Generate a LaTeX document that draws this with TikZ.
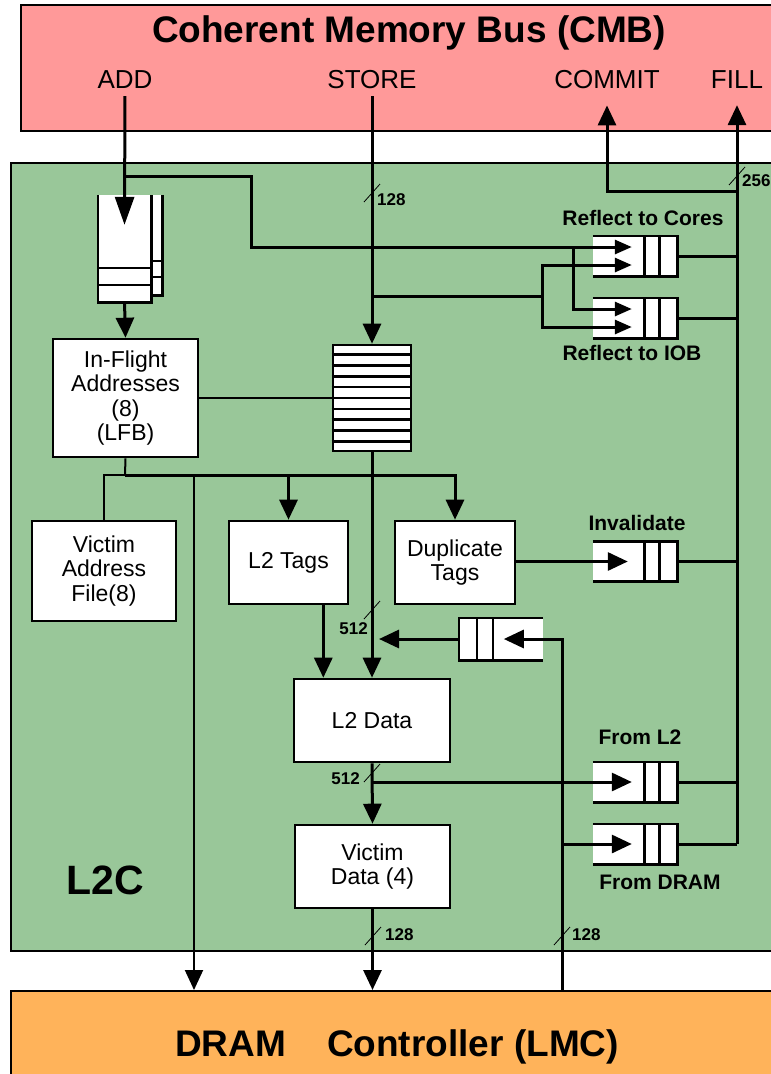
\documentclass[tikz,border=0pt]{standalone}
\usepackage{fontspec}
\setmainfont{Liberation Sans}
\usetikzlibrary{arrows.meta,positioning,calc}
\definecolor{cmbpink}{HTML}{FF9999}
\definecolor{l2cgreen}{HTML}{99C799}
\definecolor{lmcorange}{HTML}{FFB35A}
\newcommand{\blockfont}{\fontsize{23}{24.5}\selectfont}
\newcommand{\sigfont}{\fontsize{26}{28}\selectfont}
\newcommand{\qlabelfont}{\fontsize{21}{23}\selectfont\bfseries}
\newcommand{\widthfont}{\fontsize{17}{18}\selectfont\bfseries}
\newcommand{\titlefont}{\fontsize{37}{40}\selectfont\bfseries}
\tikzset{
  area/.style={draw=black, line width=2.4pt, inner sep=0pt},
  block/.style={draw=black, line width=2.6pt, fill=white, align=center, inner sep=0pt, font=\blockfont},
  queue/.style={fill=white, inner sep=0pt, minimum width=84pt, minimum height=40pt},
  qline/.style={line width=2.6pt},
  wire/.style={line width=3pt},
  thinwire/.style={line width=2pt},
  arrow/.style={wire, -{Triangle[length=20pt, width=18pt]}},
  smallarrow/.style={wire, -{Triangle[length=17pt, width=14pt]}},
  sig/.style={font=\sigfont, inner sep=2pt},
  qlabel/.style={font=\qlabelfont, inner sep=2pt},
  buswidth/.style={font=\widthfont, inner sep=0pt},
  slash/.style={line width=0.8pt}
}
\begin{document}
\begin{tikzpicture}[x=1pt, y=-1pt]
  \useasboundingbox (0,0) rectangle (771,1074);

  % the three regions
  \node[area, fill=cmbpink, anchor=north west, minimum width=790pt, minimum height=126pt] (cmb) at (20,4) {};
  \node[area, fill=l2cgreen, anchor=north west, minimum width=800pt, minimum height=788pt] (l2c) at (10,162) {};
  \node[area, fill=lmcorange, anchor=north west, minimum width=800pt, minimum height=120pt] (lmc) at (10,990) {};

  \node[font=\titlefont] (cmbtitle) at (409,33) {Coherent Memory Bus (CMB)};
  \node[font=\fontsize{41}{44}\selectfont\bfseries] (l2ctitle) at (105,880) {L2C};
  \node[font=\titlefont] (lmctitle) at (397,1047) {DRAM\hspace{41pt}Controller (LMC)};

  \node[sig] (add) at (125,80) {ADD};
  \node[sig] (store) at (372,80) {STORE};
  \node[sig] (commit) at (607,80) {COMMIT};
  \node[sig] (fill) at (737,80) {FILL};

  % boxes
  \node[block, minimum width=145pt, minimum height=118pt] (lfb) at (125.5,398) {In-Flight\\Addresses\\(8)\\(LFB)};
  \node[block, minimum width=144pt, minimum height=100pt] (vaf) at (104,571) {Victim\\Address\\File(8)};
  \node[block, minimum width=119pt, minimum height=83pt] (l2tags) at (288.5,562.5) {L2 Tags};
  \node[block, minimum width=120pt, minimum height=83pt] (duptags) at (455,562.5) {Duplicate\\Tags};
  \node[block, minimum width=156pt, minimum height=83pt] (l2data) at (372,720.5) {L2 Data};
  \node[block, minimum width=155pt, minimum height=83pt] (vdata) at (372.5,866.5) {Victim\\Data (4)};

  % store buffer
  \node[block, minimum width=78pt, minimum height=106pt] (sbuf) at (372,398) {};
  \foreach \i in {1,...,9}
    \draw[qline] ($(sbuf.north west)!\i/10!(sbuf.south west)$) -- ($(sbuf.north east)!\i/10!(sbuf.south east)$);

  % address queue
  \node[queue, minimum width=11pt, minimum height=100pt] (addqb) at (156.5,245) {};
  \draw[qline] (addqb.north east) -- (addqb.south east) -- (addqb.south west);
  \foreach \f in {0.66,0.82}
    \draw[qline] ($(addqb.north west)!\f!(addqb.south west)$) -- ($(addqb.north east)!\f!(addqb.south east)$);
  \node[queue, minimum width=53pt, minimum height=107pt] (addq) at (124.5,248.5) {};
  \draw[qline] (addq.north west) -- (addq.south west) -- (addq.south east) -- (addq.north east);
  \foreach \f in {0.68,0.84}
    \draw[qline] ($(addq.north west)!\f!(addq.south west)$) -- ($(addq.north east)!\f!(addq.south east)$);

  % queues towards the bus
  \node[queue] (qcores) at (635,256) {};
  \node[queue] (qiob) at (635,318) {};
  \node[queue] (qinval) at (635,561.5) {};
  \node[queue] (qfroml2) at (635,782) {};
  \node[queue] (qfromdram) at (635,844) {};
  \foreach \q in {qcores,qiob,qinval,qfroml2,qfromdram} {
    \draw[qline] (\q.north west) -- (\q.north east) -- (\q.south east) -- (\q.south west);
    \draw[qline] ([xshift=-18pt]\q.north east) -- ([xshift=-18pt]\q.south east)
                 ([xshift=-33pt]\q.north east) -- ([xshift=-33pt]\q.south east);
  }
  % queue from DRAM into L2 Data
  \node[queue, minimum height=42pt] (qdram) at (501,639) {};
  \draw[qline] (qdram.north east) -- (qdram.north west) -- (qdram.south west) -- (qdram.south east);
  \draw[qline] ([xshift=18pt]qdram.north west) -- ([xshift=18pt]qdram.south west)
               ([xshift=34pt]qdram.north west) -- ([xshift=34pt]qdram.south west);

  \node[qlabel, above=8pt of qcores, xshift=8pt] {Reflect to Cores};
  \node[qlabel, below=5pt of qiob, xshift=-3pt] {Reflect to IOB};
  \node[qlabel, above=8pt of qinval, xshift=2pt] {Invalidate};
  \node[qlabel, above=15pt of qfroml2, xshift=5pt] {From L2};
  \node[qlabel, below=9pt of qfromdram, xshift=25pt] {From DRAM};

  % arrow tips inside the queues
  \coordinate (addin) at ($(addq.north)+(0,30)$);
  \coordinate (cores1) at ($(qcores.west)+(39,-9)$);
  \coordinate (cores2) at ($(qcores.west)+(39,9)$);
  \coordinate (iob1) at ($(qiob.west)+(39,-9)$);
  \coordinate (iob2) at ($(qiob.west)+(39,9)$);
  \coordinate (invalin) at ($(qinval.west)+(35,0)$);
  \coordinate (froml2in) at ($(qfroml2.west)+(39,0)$);
  \coordinate (fromdramin) at ($(qfromdram.west)+(39,0)$);
  \coordinate (qdramin) at ($(qdram.west)+(45,0)$);

  % bends and splits
  \coordinate (addsplit) at (125,176);
  \coordinate (addbend) at (251,176);
  \coordinate (iobsplit) at (573,247);
  \coordinate (storesplit) at (372,296);
  \coordinate (storebend) at (542,296);
  \coordinate (commitbend) at (607,191);
  \coordinate (lfbsplit) at (125,475);
  \coordinate (dramaddr) at (194,475);
  \coordinate (dramup) at (562,639);

  % ADD
  \draw[wire, -{Triangle[length=28pt, width=19pt]}, shorten <=5pt] (add.south) -- (addin);
  \draw[smallarrow] (addsplit) -- (addbend) |- (cores1);
  \draw[smallarrow] (iobsplit) |- (iob1);
  \draw[arrow] (addq.south) -- (lfb.north);

  % STORE
  \draw[arrow, shorten <=5pt] (store.south) -- (sbuf.north);
  \draw[wire] (storesplit) -- (storebend);
  \draw[smallarrow] (storebend) |- (cores2);
  \draw[smallarrow] (storebend) |- (iob2);

  % COMMIT and FILL
  \draw[arrow, shorten >=14pt] (fill |- qfromdram) -- (fill.south);
  \draw[arrow, shorten >=14pt] (fill |- commitbend) -- (commitbend) -- (commit.south);
  \foreach \q in {qcores,qiob,qinval,qfroml2,qfromdram}
    \draw[wire] (\q.east) -- (\q.east -| fill);

  % LFB and tags
  \draw[thinwire] (lfb.east) -- (sbuf.west);
  \draw[thinwire] (lfb.south) -- (lfbsplit);
  \draw[thinwire] (vaf.north) |- (lfbsplit);
  \draw[arrow] (lfbsplit) -| (duptags.north);
  \draw[arrow] (l2tags.north |- lfbsplit) -- (l2tags.north);
  \draw[arrow, thinwire] (dramaddr) -- (dramaddr |- lmc.north);
  \draw[arrow] (duptags.east |- qinval) -- (invalin);

  % L2 Data
  \draw[arrow] (sbuf.south) -- (l2data.north);
  \draw[arrow] ($(l2tags.south east)-(26,0)$) coordinate (tagsout) -- (tagsout |- l2data.north);
  \draw[arrow] (dramup |- lmc.north) -- (dramup) -- (qdramin);
  \draw[arrow] (qdram.west) -- ($(sbuf.south |- qdram.west)+(7,0)$);
  \draw[arrow] (dramup |- qfromdram) -- (fromdramin);
  \draw[arrow] (l2data.south) -- (vdata.north);
  \draw[arrow] (l2data.south |- qfroml2) -- (froml2in);
  \draw[arrow] (vdata.south) -- (vdata.south |- lmc.north);

  % bus widths
  \foreach \px/\py/\lx/\ly/\side/\w in {372/193/377/200/west/128, 737/176/742/181/west/256,
      372/610/368/629/east/512, 372/773/360/779/east/512,
      373/936/385/935/west/128, 562/936/572/935/west/128} {
    \draw[slash] (\px-8,\py+9) -- (\px+8,\py-9);
    \node[buswidth, anchor=\side] at (\lx,\ly) {\w};
  }
\end{tikzpicture}
\end{document}
